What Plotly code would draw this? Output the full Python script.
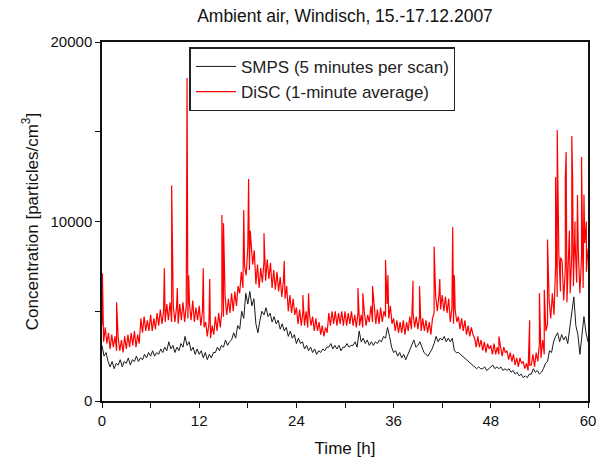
import plotly.graph_objects as go

# DiSC baseline, one value every 0.2 h (5 per hour), t = 0 ... 60
disc_base = [
    4200, 3300, 4100, 3200, 3800,
    2900, 3700, 3000, 3600, 2800,
    3500, 2800, 3400, 2700, 3600,
    2900, 3700, 3000, 3800, 3100,
    3900, 3000, 3700, 3200, 4600,
    3800, 4700, 3900, 4500, 3900,
    4800, 3900, 4600, 4000, 4900,
    4200, 5100, 4300, 5000, 4400,
    5400, 4500, 5500, 4400, 5300,
    4400, 5200, 4300, 5400, 4500,
    5500, 4400, 5300, 4600, 5400,
    4500, 5600, 4400, 5200, 4500,
    5300, 4200, 5000, 4100, 4400,
    3600, 4300, 3500, 4200, 3700,
    4700, 3900, 4900, 4100, 5000,
    4700, 5800, 4800, 5700, 4900,
    6000, 5000, 6100, 5300, 6400,
    6000, 7200, 6300, 7500, 7000,
    8600, 7300, 8800, 7600, 8400,
    6500, 7600, 6300, 7400, 6600,
    7800, 6700, 7900, 6800, 7700,
    6300, 7300, 6200, 7200, 6100,
    6900, 5800, 6700, 5700, 6400,
    5000, 5900, 4900, 5700, 4800,
    5200, 4300, 5100, 4200, 5000,
    4200, 5000, 4100, 4900, 4200,
    4700, 3900, 4600, 3900, 4400,
    3700, 4200, 3600, 4100, 3800,
    4900, 4200, 5000, 4300, 5000,
    4200, 4900, 4300, 5000, 4200,
    5000, 4200, 4900, 4300, 5000,
    4200, 4800, 4100, 4900, 4200,
    4800, 4100, 4900, 4200, 4800,
    4400, 5300, 4400, 5100, 4300,
    5100, 4300, 5200, 4400, 5000,
    4700, 5400, 4600, 5300, 4300,
    4600, 3900, 4500, 3800, 4400,
    3800, 4500, 3700, 4400, 3900,
    4700, 4000, 4900, 4100, 4700,
    4000, 4700, 3900, 4600, 3900,
    4500, 3800, 4400, 3700, 4600,
    4900, 5800, 5000, 5900, 5100,
    5900, 5000, 5800, 4900, 5700,
    4400, 5200, 4300, 5100, 4400,
    4700, 4000, 4600, 3900, 4500,
    3700, 4200, 3600, 4100, 3700,
    3500, 3000, 3600, 3000, 3400,
    2800, 3300, 2700, 3200, 2900,
    3100, 2600, 3200, 2600, 3000,
    2600, 3100, 2500, 3000, 2700,
    2800, 2300, 2700, 2200, 2600,
    2000, 2400, 1900, 2400, 2100,
    2200, 1800, 2100, 1700, 2000,
    2000, 2600, 1900, 2700, 2200,
    3200, 2400, 3400, 2600, 3900,
    4300, 5600, 4600, 6000, 4800,
    7500, 5800, 8200, 6100, 7800,
    5600, 7400, 5500, 7600, 6000,
    8200, 6400, 9000, 6600, 8400,
    6000, 8000, 6300, 8800, 7200,
    8500,
]
disc_base_step_h = 0.2

# DiSC short peaks (1-minute values), time [h] and concentration
disc_spike_t = [0.05, 1.8, 7.7, 8.6, 9.3, 10.45, 10.5, 10.7, 12.5, 13.3,
                14.8, 15.0, 17.5, 18.1, 18.3, 20.0, 22.5, 24.8, 25.5, 31.6,
                32.2, 33.4, 35.0, 35.3, 38.4, 39.2, 41.0, 41.7, 43.3, 43.5,
                49.0, 52.8, 54.0, 54.6, 55.0, 56.0, 56.2, 56.6, 57.2, 57.3,
                57.7, 58.0, 58.1, 58.4, 58.7, 59.2, 59.5, 59.8]
disc_spike_v = [7100, 5500, 7400, 12000, 6300, 11300, 18000, 7000, 7400, 6800,
                10360, 9900, 10640, 12370, 9500, 9350, 7800, 5900, 6000, 6300,
                6000, 6400, 7850, 7000, 6700, 6400, 8600, 6800, 9700, 7000,
                3600, 4500, 6000, 6200, 9000, 12480, 15100, 8000, 12500, 13870,
                9500, 14760, 12400, 10000, 11470, 13590, 11500, 10000]

# SMPS, one value every 0.25 h (4 per hour), t = 0 ... 60
smps = [
    3100, 2500, 2700, 2200,
    1900, 2200, 1800, 2100,
    2000, 2300, 1900, 2200,
    2100, 2400, 2000, 2300,
    2200, 2500, 2200, 2400,
    2300, 2600, 2400, 2700,
    2500, 2800, 2500, 2700,
    2600, 2900, 2700, 3000,
    2800, 3300, 2900, 3100,
    2700, 3000, 2800, 3200,
    3000, 3600, 3100, 3300,
    2800, 3000, 2600, 2900,
    2600, 2800, 2400, 2700,
    2300, 2600, 2400, 2700,
    2700, 3000, 2800, 3100,
    3000, 3400, 3100, 3300,
    3400, 3800, 3500, 4200,
    4000, 5000, 4600, 6000,
    5400, 6100, 5300, 5700,
    4300, 3800, 4500, 5000,
    4800, 5200, 4700, 4900,
    4400, 4700, 4300, 4500,
    4000, 4300, 3900, 4100,
    3600, 3900, 3500, 3700,
    3200, 3500, 3200, 3300,
    2900, 3100, 2800, 3000,
    2700, 2900, 2600, 2800,
    2700, 2900, 2800, 3000,
    3000, 3200, 2900, 3100,
    2900, 3100, 2800, 3000,
    3000, 3200, 3000, 3100,
    3100, 3300, 3000, 3900,
    3300, 3500, 3200, 3400,
    3100, 3300, 3100, 3300,
    3200, 3400, 3300, 3600,
    3500, 4100, 3600, 3000,
    2700, 2800, 2500, 2700,
    2400, 2600, 2300, 2600,
    2800, 3100, 3400, 3000,
    3100, 3300, 3000, 2700,
    2600, 2500, 2700, 2900,
    3200, 3600, 3300, 3500,
    3400, 3600, 3300, 3500,
    3300, 3500, 2800, 2700,
    2700, 2600, 2500, 2400,
    2300, 2200, 2100, 2000,
    1900, 1800, 1900, 1800,
    1800, 1900, 1700, 1800,
    1900, 2000, 1800, 1900,
    1800, 1900, 1700, 1800,
    1700, 1800, 1600, 1700,
    1500, 1600, 1400, 1500,
    1300, 1400, 1300, 1500,
    1500, 1800, 1600, 1700,
    1500, 1600, 1800, 2100,
    2200, 2800, 2700, 3300,
    3600, 3800, 3300, 3700,
    3400, 3600, 3200, 4000,
    5000, 5800, 4200, 3700,
    2600, 3600, 4700, 3800,
    3300,
]
smps_step_h = 0.25

x_ticks = [0, 12, 24, 36, 48, 60]
x_minor = [6, 18, 30, 42, 54]
y_ticks = [0, 10000, 20000]
y_minor = [5000, 15000]

# build time axes
disc_pts = [(i * disc_base_step_h, v) for i, v in enumerate(disc_base)]
disc_pts += list(zip(disc_spike_t, disc_spike_v))
disc_pts.sort(key=lambda p: p[0])
disc_t = [p[0] for p in disc_pts]
disc_v = [p[1] for p in disc_pts]
smps_t = [i * smps_step_h for i in range(len(smps))]

FONT = "Liberation Sans, Arial, sans-serif"

fig = go.Figure()
fig.add_trace(go.Scatter(x=disc_t, y=disc_v, mode="lines", name="DiSC (1-minute average)",
                         line=dict(color="#ff0000", width=1.2)))
fig.add_trace(go.Scatter(x=smps_t, y=smps, mode="lines", name="SMPS (5 minutes per scan)",
                         line=dict(color="#1a1a1a", width=1)))

fig.update_layout(
    width=596, height=459,
    margin=dict(l=102, r=8, t=42, b=58),
    paper_bgcolor="white", plot_bgcolor="white",
    font=dict(family=FONT, size=15, color="#111"),
    title=dict(text="Ambient air, Windisch, 15.-17.12.2007", x=0.5, xref="paper",
               y=0.965, yref="container", xanchor="center", yanchor="middle",
               font=dict(size=17.5, family=FONT, color="#111")),
    showlegend=True,
    legend=dict(x=0.18, y=0.985, xanchor="left", yanchor="top",
                traceorder="reversed",
                bordercolor="#222", borderwidth=1.5, bgcolor="white",
                font=dict(size=17, family=FONT, color="#222"),
                tracegroupgap=0, itemwidth=40),
)
fig.update_xaxes(range=[0, 60], tickvals=x_ticks, ticktext=[str(v) for v in x_ticks],
                 automargin=False, ticklabeloverflow="allow",
                 showline=True, linecolor="#111", linewidth=1.5, mirror=True,
                 ticks="outside", ticklen=5, tickwidth=1.2, tickcolor="#111",
                 minor=dict(tickvals=x_minor, ticks="outside", ticklen=5,
                            tickwidth=1.2, tickcolor="#111"),
                 showgrid=False, zeroline=False,
                 tickfont=dict(size=15, family=FONT),
                 title=dict(text="Time [h]", font=dict(size=17, family=FONT), standoff=14))
fig.update_yaxes(range=[0, 20000], tickvals=y_ticks, ticktext=[str(v) for v in y_ticks],
                 automargin=False, ticklabeloverflow="allow",
                 showline=True, linecolor="#111", linewidth=1.5, mirror=True,
                 ticks="outside", ticklen=5, tickwidth=1.2, tickcolor="#111",
                 minor=dict(tickvals=y_minor, ticks="outside", ticklen=5,
                            tickwidth=1.2, tickcolor="#111"),
                 showgrid=False, zeroline=False,
                 tickfont=dict(size=15, family=FONT),
                 title=dict(text="Concentration [particles/cm<sup>3</sup>]",
                            font=dict(size=17, family=FONT), standoff=8))

fig.write_html("out.html")
